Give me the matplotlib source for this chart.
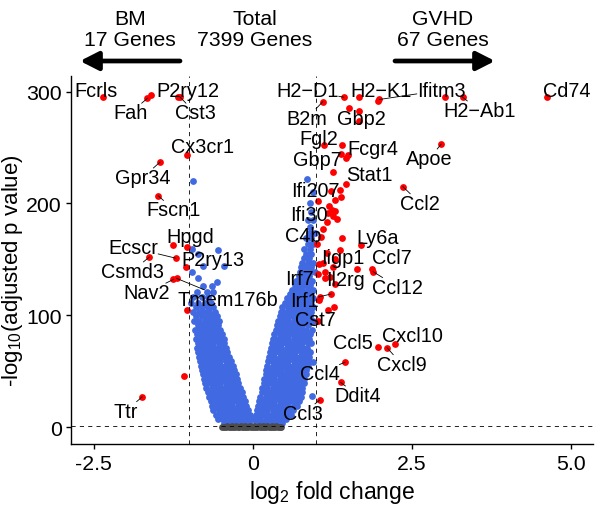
import matplotlib
matplotlib.use("Agg")
import matplotlib.pyplot as plt
import numpy as np
from matplotlib.patches import FancyArrowPatch
from matplotlib.transforms import ScaledTranslation

plt.rcParams['font.family'] = ['Liberation Sans', 'DejaVu Sans']
plt.rcParams['mathtext.fontset'] = 'custom'
plt.rcParams['mathtext.rm'] = 'Liberation Sans'

# ---------------- data ----------------
# labelled significant genes (log2FC, -log10 padj)
genes = ["Fcrls", "Fah", "P2ry12", "Cst3", "Cx3cr1", "Gpr34", "Fscn1", "Hpgd", "Ecscr",
         "Csmd3", "P2ry13", "Nav2", "Tmem176b", "Ttr",
         "H2\u2212D1", "H2\u2212K1", "Ifitm3", "Cd74", "B2m", "Gbp2", "H2\u2212Ab1", "Fgl2",
         "Fcgr4", "Gbp7", "Apoe", "Stat1", "Ifi207", "Ccl2", "Ifi30", "C4b", "Ly6a",
         "Iigp1", "Ccl7", "Ccl12", "Irf7", "Il2rg", "Irf1", "Cst7", "Ccl5", "Cxcl9",
         "Cxcl10", "Ccl4", "Ddit4", "Ccl3"]
genes_lfc = [-2.36, -1.66, -1.17, -1.15, -1.04, -1.46, -1.49, -1.26, -1.21,
             -1.63, -1.05, -1.25, -1.20, -1.74,
             1.43, 1.67, 1.99, 4.62, 1.10, 1.51, 3.30, 1.12,
             1.50, 1.38, 2.96, 1.46, 1.23, 2.36, 1.18, 1.10, 1.70,
             1.64, 1.87, 1.89, 1.03, 1.30, 1.23, 1.03, 1.97, 2.11,
             2.23, 1.45, 1.38, 1.05]
genes_p = [295, 294, 295, 295.5, 243, 237, 207, 163, 151,
           152, 143, 132, 133, 27,
           295, 295, 293, 295, 291, 285, 295, 252,
           243, 244, 253, 217, 211, 215, 191, 177, 163,
           141, 141, 139, 137, 128, 119, 95, 72, 71,
           74, 58, 40, 24]

# unlabelled significant genes (red)
sig_lfc = [-1.60, -1.04, -1.04, -1.08,
           3.03, 1.97, 1.67, 1.67, 1.41, 1.47, 1.26, 1.37, 1.38, 1.29, 1.02, 1.24,
           1.29, 1.26, 1.16, 1.41, 1.01, 1.16, 1.04, 1.10, 1.26, 1.13, 1.13, 1.21,
           1.05, 1.04, 1.27, 1.18, 1.20, 1.33, 1.07, 1.30, 1.37]
sig_p = [297, 161, 105, 46,
         295, 292, 283, 274, 252, 241, 228, 212, 206, 203, 202, 194,
         193, 189, 183, 169, 164, 156, 146, 147, 143, 139, 133, 134,
         116, 114, 107, 105, 198, 186, 170, 150, 158]

# significant but small fold change genes (blue)
blue_left_levels = [4, 7, 11, 15, 19, 23, 27, 31, 35, 39, 43, 47, 51, 55, 59, 63, 67, 71,
                    75, 79, 83, 87, 91, 95, 99, 103, 107, 111, 116, 121, 126]
blue_left_x = [
    [-0.46, -0.38, -0.3, -0.22, -0.14, -0.06],
    [-0.55, -0.47, -0.39, -0.31, -0.23, -0.15, -0.07, 0.0],
    [-0.58, -0.5, -0.42, -0.34, -0.26, -0.18, -0.1, -0.04],
    [-0.62, -0.54, -0.46, -0.38, -0.3, -0.22, -0.14, -0.08],
    [-0.64, -0.56, -0.48, -0.4, -0.32, -0.24, -0.16, -0.1],
    [-0.66, -0.58, -0.5, -0.42, -0.34, -0.26, -0.18, -0.12],
    [-0.69, -0.61, -0.53, -0.45, -0.37, -0.29, -0.21, -0.15],
    [-0.71, -0.63, -0.55, -0.47, -0.39, -0.31, -0.23, -0.17],
    [-0.73, -0.65, -0.57, -0.49, -0.41, -0.33, -0.25, -0.2],
    [-0.75, -0.67, -0.59, -0.51, -0.43, -0.35, -0.27, -0.23],
    [-0.77, -0.69, -0.61, -0.53, -0.45, -0.37, -0.29, -0.25],
    [-0.79, -0.71, -0.63, -0.55, -0.47, -0.39, -0.31, -0.27],
    [-0.8, -0.72, -0.64, -0.56, -0.48, -0.4, -0.32, -0.29],
    [-0.82, -0.74, -0.66, -0.58, -0.5, -0.42, -0.34, -0.31],
    [-0.83, -0.75, -0.67, -0.59, -0.51, -0.43, -0.35],
    [-0.85, -0.77, -0.69, -0.61, -0.53, -0.45, -0.38],
    [-0.87, -0.79, -0.71, -0.63, -0.55, -0.47, -0.4],
    [-0.88, -0.8, -0.72, -0.64, -0.56, -0.48, -0.42],
    [-0.86, -0.78, -0.7, -0.62, -0.54, -0.46],
    [-0.9, -0.82, -0.74, -0.66, -0.58, -0.5, -0.45],
    [-0.88, -0.8, -0.72, -0.64, -0.56, -0.48],
    [-0.91, -0.83, -0.75, -0.67, -0.59, -0.51],
    [-0.87, -0.79, -0.71, -0.63, -0.55],
    [-0.92, -0.84, -0.76, -0.68, -0.6, -0.53],
    [-0.89, -0.8, -0.72, -0.64, -0.57],
    [-0.94, -0.85, -0.77, -0.69, -0.6],
    [-0.9, -0.8, -0.71, -0.62],
    [-0.97, -0.86, -0.75, -0.66],
    [-0.94, -0.8, -0.7],
    [-0.88, -0.72, -0.62],
    [-0.78, -0.65],
]
blue_right_levels = [4, 7, 11, 15, 19, 23, 27, 31, 35, 39, 43, 47, 51, 55, 59, 63, 67, 71,
                     75, 79, 83, 87, 91, 95, 99, 103, 107, 111, 115, 119, 123, 127, 131,
                     135, 139, 143, 147, 151, 155, 159, 164, 169, 174, 179, 185, 192, 200,
                     210, 222]
blue_right_x = [
    [0.06, 0.14, 0.22, 0.3, 0.38, 0.46],
    [0.04, 0.12, 0.2, 0.28, 0.36, 0.44, 0.52],
    [0.05, 0.13, 0.21, 0.29, 0.37, 0.45, 0.53, 0.6],
    [0.07, 0.15, 0.23, 0.31, 0.39, 0.47, 0.55, 0.63],
    [0.08, 0.16, 0.24, 0.32, 0.4, 0.48, 0.56, 0.64, 0.7],
    [0.1, 0.18, 0.26, 0.34, 0.42, 0.5, 0.58, 0.66, 0.73],
    [0.12, 0.2, 0.28, 0.36, 0.44, 0.52, 0.6, 0.68, 0.75],
    [0.14, 0.22, 0.3, 0.38, 0.46, 0.54, 0.62, 0.7, 0.77],
    [0.15, 0.23, 0.31, 0.39, 0.47, 0.55, 0.63, 0.71, 0.78],
    [0.17, 0.25, 0.33, 0.41, 0.49, 0.57, 0.65, 0.73, 0.8],
    [0.18, 0.26, 0.34, 0.42, 0.5, 0.58, 0.66, 0.74, 0.81],
    [0.2, 0.28, 0.36, 0.44, 0.52, 0.6, 0.68, 0.76, 0.83],
    [0.21, 0.29, 0.37, 0.45, 0.53, 0.61, 0.69, 0.77, 0.84],
    [0.23, 0.31, 0.39, 0.47, 0.55, 0.63, 0.71, 0.79, 0.86],
    [0.24, 0.32, 0.4, 0.48, 0.56, 0.64, 0.72, 0.8, 0.87],
    [0.26, 0.34, 0.42, 0.5, 0.58, 0.66, 0.74, 0.82, 0.89],
    [0.27, 0.35, 0.43, 0.51, 0.59, 0.67, 0.75, 0.83, 0.9],
    [0.29, 0.37, 0.45, 0.53, 0.61, 0.69, 0.77, 0.85],
    [0.3, 0.38, 0.46, 0.54, 0.62, 0.7, 0.78, 0.86, 0.92],
    [0.32, 0.4, 0.48, 0.56, 0.64, 0.72, 0.8, 0.88],
    [0.34, 0.42, 0.5, 0.58, 0.66, 0.74, 0.82, 0.9],
    [0.36, 0.44, 0.52, 0.6, 0.68, 0.76, 0.84, 0.93],
    [0.38, 0.46, 0.54, 0.62, 0.7, 0.78, 0.86],
    [0.4, 0.48, 0.56, 0.64, 0.72, 0.8, 0.88, 0.95],
    [0.42, 0.5, 0.58, 0.66, 0.74, 0.82, 0.9],
    [0.44, 0.52, 0.6, 0.68, 0.76, 0.84, 0.92],
    [0.46, 0.55, 0.63, 0.71, 0.79, 0.87, 0.95],
    [0.5, 0.58, 0.66, 0.74, 0.82, 0.9],
    [0.54, 0.62, 0.7, 0.78, 0.86, 0.94],
    [0.58, 0.66, 0.74, 0.82, 0.9],
    [0.62, 0.7, 0.78, 0.86, 0.95],
    [0.66, 0.74, 0.82, 0.9],
    [0.68, 0.76, 0.84, 0.93],
    [0.72, 0.8, 0.88],
    [0.74, 0.82, 0.9, 0.97],
    [0.76, 0.84, 0.92],
    [0.78, 0.87, 0.95],
    [0.8, 0.88],
    [0.83, 0.92],
    [0.8, 0.9],
    [0.86, 0.95],
    [0.84, 0.92],
    [0.88, 0.97],
    [0.9],
    [0.86, 0.95],
    [0.92],
    [0.9],
    [0.95],
    [0.85],
]
blue_extra_lfc = [-0.57, -0.86, -0.96, -0.79, -0.46, -0.86, -0.55, -0.96, -0.94, 0.93, 0.94]
blue_extra_p = [130, 133, 139, 144, 144, 155, 158, 159, 220, 28, 58]

# non-significant genes (grey)
gray_levels = [-0.4, 0.4, 1.1]
gray_x = [
    [-0.49, -0.42, -0.35, -0.28, -0.21, -0.14, -0.07, 0.0, 0.07, 0.14, 0.21, 0.28, 0.35, 0.42],
    [-0.45, -0.38, -0.31, -0.24, -0.17, -0.1, -0.03, 0.04, 0.11, 0.18, 0.25, 0.32, 0.39, 0.45],
    [-0.4, -0.33, -0.26, -0.19, -0.12, -0.05, 0.02, 0.09, 0.16, 0.23, 0.3, 0.37],
]

lfc_cut = 1.0
p_cut = 1.3

# label positions (data coords, visual centre of glyphs)
label_xy = {
    "Fcrls": (-2.47, 303), "Fah": (-1.92, 283), "P2ry12": (-1.02, 303), "Cst3": (-0.91, 283),
    "Cx3cr1": (-0.79, 253), "Gpr34": (-1.73, 225), "Fscn1": (-1.24, 196), "Hpgd": (-0.99, 172),
    "Ecscr": (-1.88, 162), "P2ry13": (-0.63, 152), "Csmd3": (-1.90, 141), "Nav2": (-1.67, 122),
    "Tmem176b": (-0.40, 116), "Ttr": (-2.0, 16),
    "H2\u2212D1": (0.86, 303), "H2\u2212K1": (2.01, 303), "Ifitm3": (2.96, 303), "Cd74": (4.93, 303),
    "B2m": (0.85, 278), "Gbp2": (1.70, 278), "H2\u2212Ab1": (3.56, 285), "Fgl2": (1.03, 260),
    "Fcgr4": (1.89, 251), "Gbp7": (1.01, 241), "Apoe": (2.78, 242), "Stat1": (1.84, 228),
    "Ifi207": (0.98, 213), "Ccl2": (2.63, 202), "Ifi30": (0.88, 192), "C4b": (0.80, 173),
    "Ly6a": (1.96, 171), "Iigp1": (1.42, 153), "Ccl7": (2.19, 153), "Ccl12": (2.28, 127),
    "Irf7": (0.74, 135), "Il2rg": (1.46, 134), "Irf1": (0.81, 115), "Cst7": (0.99, 98),
    "Ccl5": (1.58, 77), "Cxcl10": (2.51, 84), "Cxcl9": (2.34, 58), "Ccl4": (1.05, 50),
    "Ddit4": (1.65, 30), "Ccl3": (0.79, 14),
}

# ---------------- figure ----------------
W, H = 598, 506
fig = plt.figure(figsize=(W / 100, H / 100), dpi=100)
ax = fig.add_axes([71 / W, 1 - 445 / H, (593 - 71) / W, (445 - 77) / H])

RED, BLUE, GREY = "#FF0000", "#4169E1", "#4D4D4D"
S = 24

bx, by = [], []
for levels, rows in ((blue_left_levels, blue_left_x), (blue_right_levels, blue_right_x)):
    for lv, row in zip(levels, rows):
        bx += row
        by += [lv] * len(row)
bx += blue_extra_lfc
by += blue_extra_p
ax.scatter(bx, by, s=S, color=BLUE, lw=0, zorder=2)

gx = [x for row in gray_x for x in row]
gy = [lv for lv, row in zip(gray_levels, gray_x) for _ in row]
ax.scatter(gx, gy, s=S, color=GREY, lw=0, zorder=2.5)

ax.scatter(sig_lfc, sig_p, s=S, color=RED, lw=0, zorder=3)
ax.scatter(genes_lfc, genes_p, s=S, color=RED, lw=0, zorder=3)

for v in (-lfc_cut, lfc_cut):
    ax.axvline(v, color="black", lw=0.6, ls=(0, (5, 5)), zorder=4)
ax.axhline(p_cut, color="black", lw=0.6, ls=(0, (5, 5)), zorder=4)

ax.set_xlim(-2.86, 5.35)
ax.set_ylim(-15.2, 314)
ax.set_xticks([-2.5, 0, 2.5, 5.0])
ax.set_xticklabels(["-2.5", "0", "2.5", "5.0"])
ax.set_yticks([0, 100, 200, 300])
ax.set_yticklabels(["0", "100", "200", "300"])
for s in ("top", "right"):
    ax.spines[s].set_visible(False)
for s in ("left", "bottom"):
    ax.spines[s].set_linewidth(1.0)
ax.tick_params(axis="both", length=3.5, width=1.0, labelsize=15.3, colors="black")
ax.tick_params(axis="x", pad=4)
ax.tick_params(axis="y", pad=3)
ax.set_xlabel(r"log$_\mathregular{2}$ fold change", fontsize=16.5, labelpad=3)
ax.set_ylabel(r"-log$_\mathregular{10}$(adjusted p value)", fontsize=16)
ax.yaxis.set_label_coords(-0.088, 0.475)

# gene labels
LFS = 14.3
shift = ScaledTranslation(0, -0.1 * LFS / 72, fig.dpi_scale_trans)
texts = []
for g, x, y in zip(genes, genes_lfc, genes_p):
    tx, ty = label_xy[g]
    t = ax.text(tx, ty, g, fontsize=LFS, ha="center", va="center",
                transform=ax.transData + shift, zorder=5)
    texts.append((t, x, y))

fig.canvas.draw()
r = fig.canvas.get_renderer()
inv = ax.transData.inverted()
for t, x, y in texts:
    bb = t.get_window_extent(r)
    P = np.array(ax.transData.transform((x, y)))
    if bb.x0 <= P[0] <= bb.x1 and bb.y0 <= P[1] <= bb.y1:
        continue
    C = np.array([(bb.x0 + bb.x1) / 2, (bb.y0 + bb.y1) / 2])
    D = C - P
    ts = []
    if D[0] != 0:
        ts.append(((bb.x0 if D[0] > 0 else bb.x1) - P[0]) / D[0])
    if D[1] != 0:
        ts.append(((bb.y0 if D[1] > 0 else bb.y1) - P[1]) / D[1])
    te = max(ts)
    E = P + te * D
    if np.hypot(*(E - P)) > 5:
        a = inv.transform(P)
        b = inv.transform(E)
        ax.plot([a[0], b[0]], [a[1], b[1]], color="black", lw=0.6, zorder=4)

# header
HFS = 15.2
fig.text(130 / W, 1 - 30 / H, "BM\n17 Genes", ha="center", va="center", fontsize=HFS, linespacing=1.15)
fig.text(255 / W, 1 - 30 / H, "Total\n7399 Genes", ha="center", va="center", fontsize=HFS, linespacing=1.15)
fig.text(443 / W, 1 - 30 / H, "GVHD\n67 Genes", ha="center", va="center", fontsize=HFS, linespacing=1.15)

for (xa, xb) in ((180, 80), (395, 495)):
    arr = FancyArrowPatch((xa / W, 1 - 62 / H), (xb / W, 1 - 62 / H), transform=fig.transFigure,
                          arrowstyle="-|>,head_length=0.55,head_width=0.28", mutation_scale=20,
                          lw=3.4, color="black", shrinkA=0, shrinkB=0)
    fig.add_artist(arr)

fig.savefig("out.png", dpi=100)
